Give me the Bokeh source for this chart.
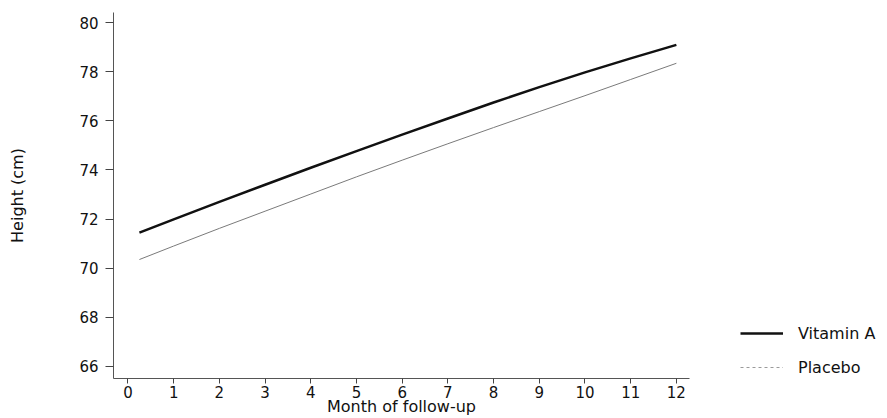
from bokeh.plotting import figure
from bokeh.layouts import row
from bokeh.models import Range1d, FixedTicker, Legend, LegendItem, ColumnDataSource
from bokeh.embed import file_html
from bokeh.resources import INLINE

# ---- data ----
months = [0.25, 1, 2, 3, 4, 5, 6, 7, 8, 9, 10, 11, 12]
vitamin_a = [71.45, 71.99, 72.70, 73.40, 74.09, 74.77, 75.44, 76.10, 76.75, 77.38, 77.98, 78.55, 79.10]
placebo = [70.35, 70.90, 71.62, 72.32, 73.02, 73.72, 74.40, 75.07, 75.73, 76.38, 77.03, 77.69, 78.35]
x_ticks = list(range(0, 13))
y_ticks = [66, 68, 70, 72, 74, 76, 78, 80]
series_names = ["Vitamin A", "Placebo"]
x_title = "Month of follow-up"
y_title = "Height (cm)"

FONT = "DejaVu Sans"
VA_STYLE = dict(line_color="#111111", line_width=2.5)
PL_STYLE = dict(line_color="#7a7a7a", line_width=1)
PL_KEY_STYLE = dict(line_color="#9a9a9a", line_width=1, line_dash="3 3")

src = ColumnDataSource(dict(m=months, va=vitamin_a, pl=placebo))

# ---------------- main plot ----------------
p = figure(width=700, height=418, output_backend="svg", toolbar_location=None,
           x_range=Range1d(-0.317, 12.287), y_range=Range1d(65.50, 80.42),
           min_border_left=113, min_border_right=11, min_border_top=12, min_border_bottom=40)
p.outline_line_color = None
p.grid.visible = False
p.background_fill_color = "white"
p.border_fill_color = "white"

p.line("m", "va", source=src, **VA_STYLE)
p.line("m", "pl", source=src, **PL_STYLE)

for ax in (p.xaxis[0], p.yaxis[0]):
    ax.axis_line_color = "#555555"
    ax.axis_line_width = 1
    ax.major_tick_line_color = "#444444"
    ax.minor_tick_line_color = None
    ax.major_tick_in = 0
    ax.major_label_text_font = FONT
    ax.major_label_text_font_size = "15px"
    ax.major_label_text_color = "#111111"
    ax.axis_label_text_font = FONT
    ax.axis_label_text_font_style = "normal"
    ax.axis_label_text_color = "#111111"
    ax.axis_label_text_font_size = "16px"

xa = p.xaxis[0]
xa.ticker = FixedTicker(ticks=x_ticks)
xa.major_tick_out = 5
xa.major_label_standoff = 2
xa.axis_label = x_title
xa.axis_label_standoff = -4

ya = p.yaxis[0]
ya.ticker = FixedTicker(ticks=y_ticks)
ya.major_tick_out = 8
ya.major_label_standoff = 7
ya.axis_label = y_title
ya.axis_label_standoff = 49

# ---------------- legend panel ----------------
lg = figure(width=187, height=418, output_backend="svg", toolbar_location=None,
            x_axis_type=None, y_axis_type=None,
            x_range=Range1d(100, 101), y_range=Range1d(0, 1),
            min_border_left=0, min_border_right=0, min_border_top=0, min_border_bottom=0)
lg.outline_line_color = None
lg.grid.visible = False
lg.background_fill_color = "white"
lg.border_fill_color = "white"
k_va = lg.line("m", "va", source=src, **VA_STYLE)
k_pl = lg.line("m", "pl", source=src, **PL_KEY_STYLE)

legend = Legend(items=[LegendItem(label=series_names[0], renderers=[k_va]),
                       LegendItem(label=series_names[1], renderers=[k_pl])],
                location=(40, 1), orientation="vertical",
                glyph_width=43, glyph_height=20, label_height=20, spacing=14,
                label_standoff=15, padding=0, margin=0,
                border_line_color=None, background_fill_alpha=0,
                label_text_font=FONT, label_text_font_size="16px", label_text_color="#111111")
lg.add_layout(legend, "center")

layout = row(p, lg)
open("out.html", "w").write(file_html(layout, INLINE))
